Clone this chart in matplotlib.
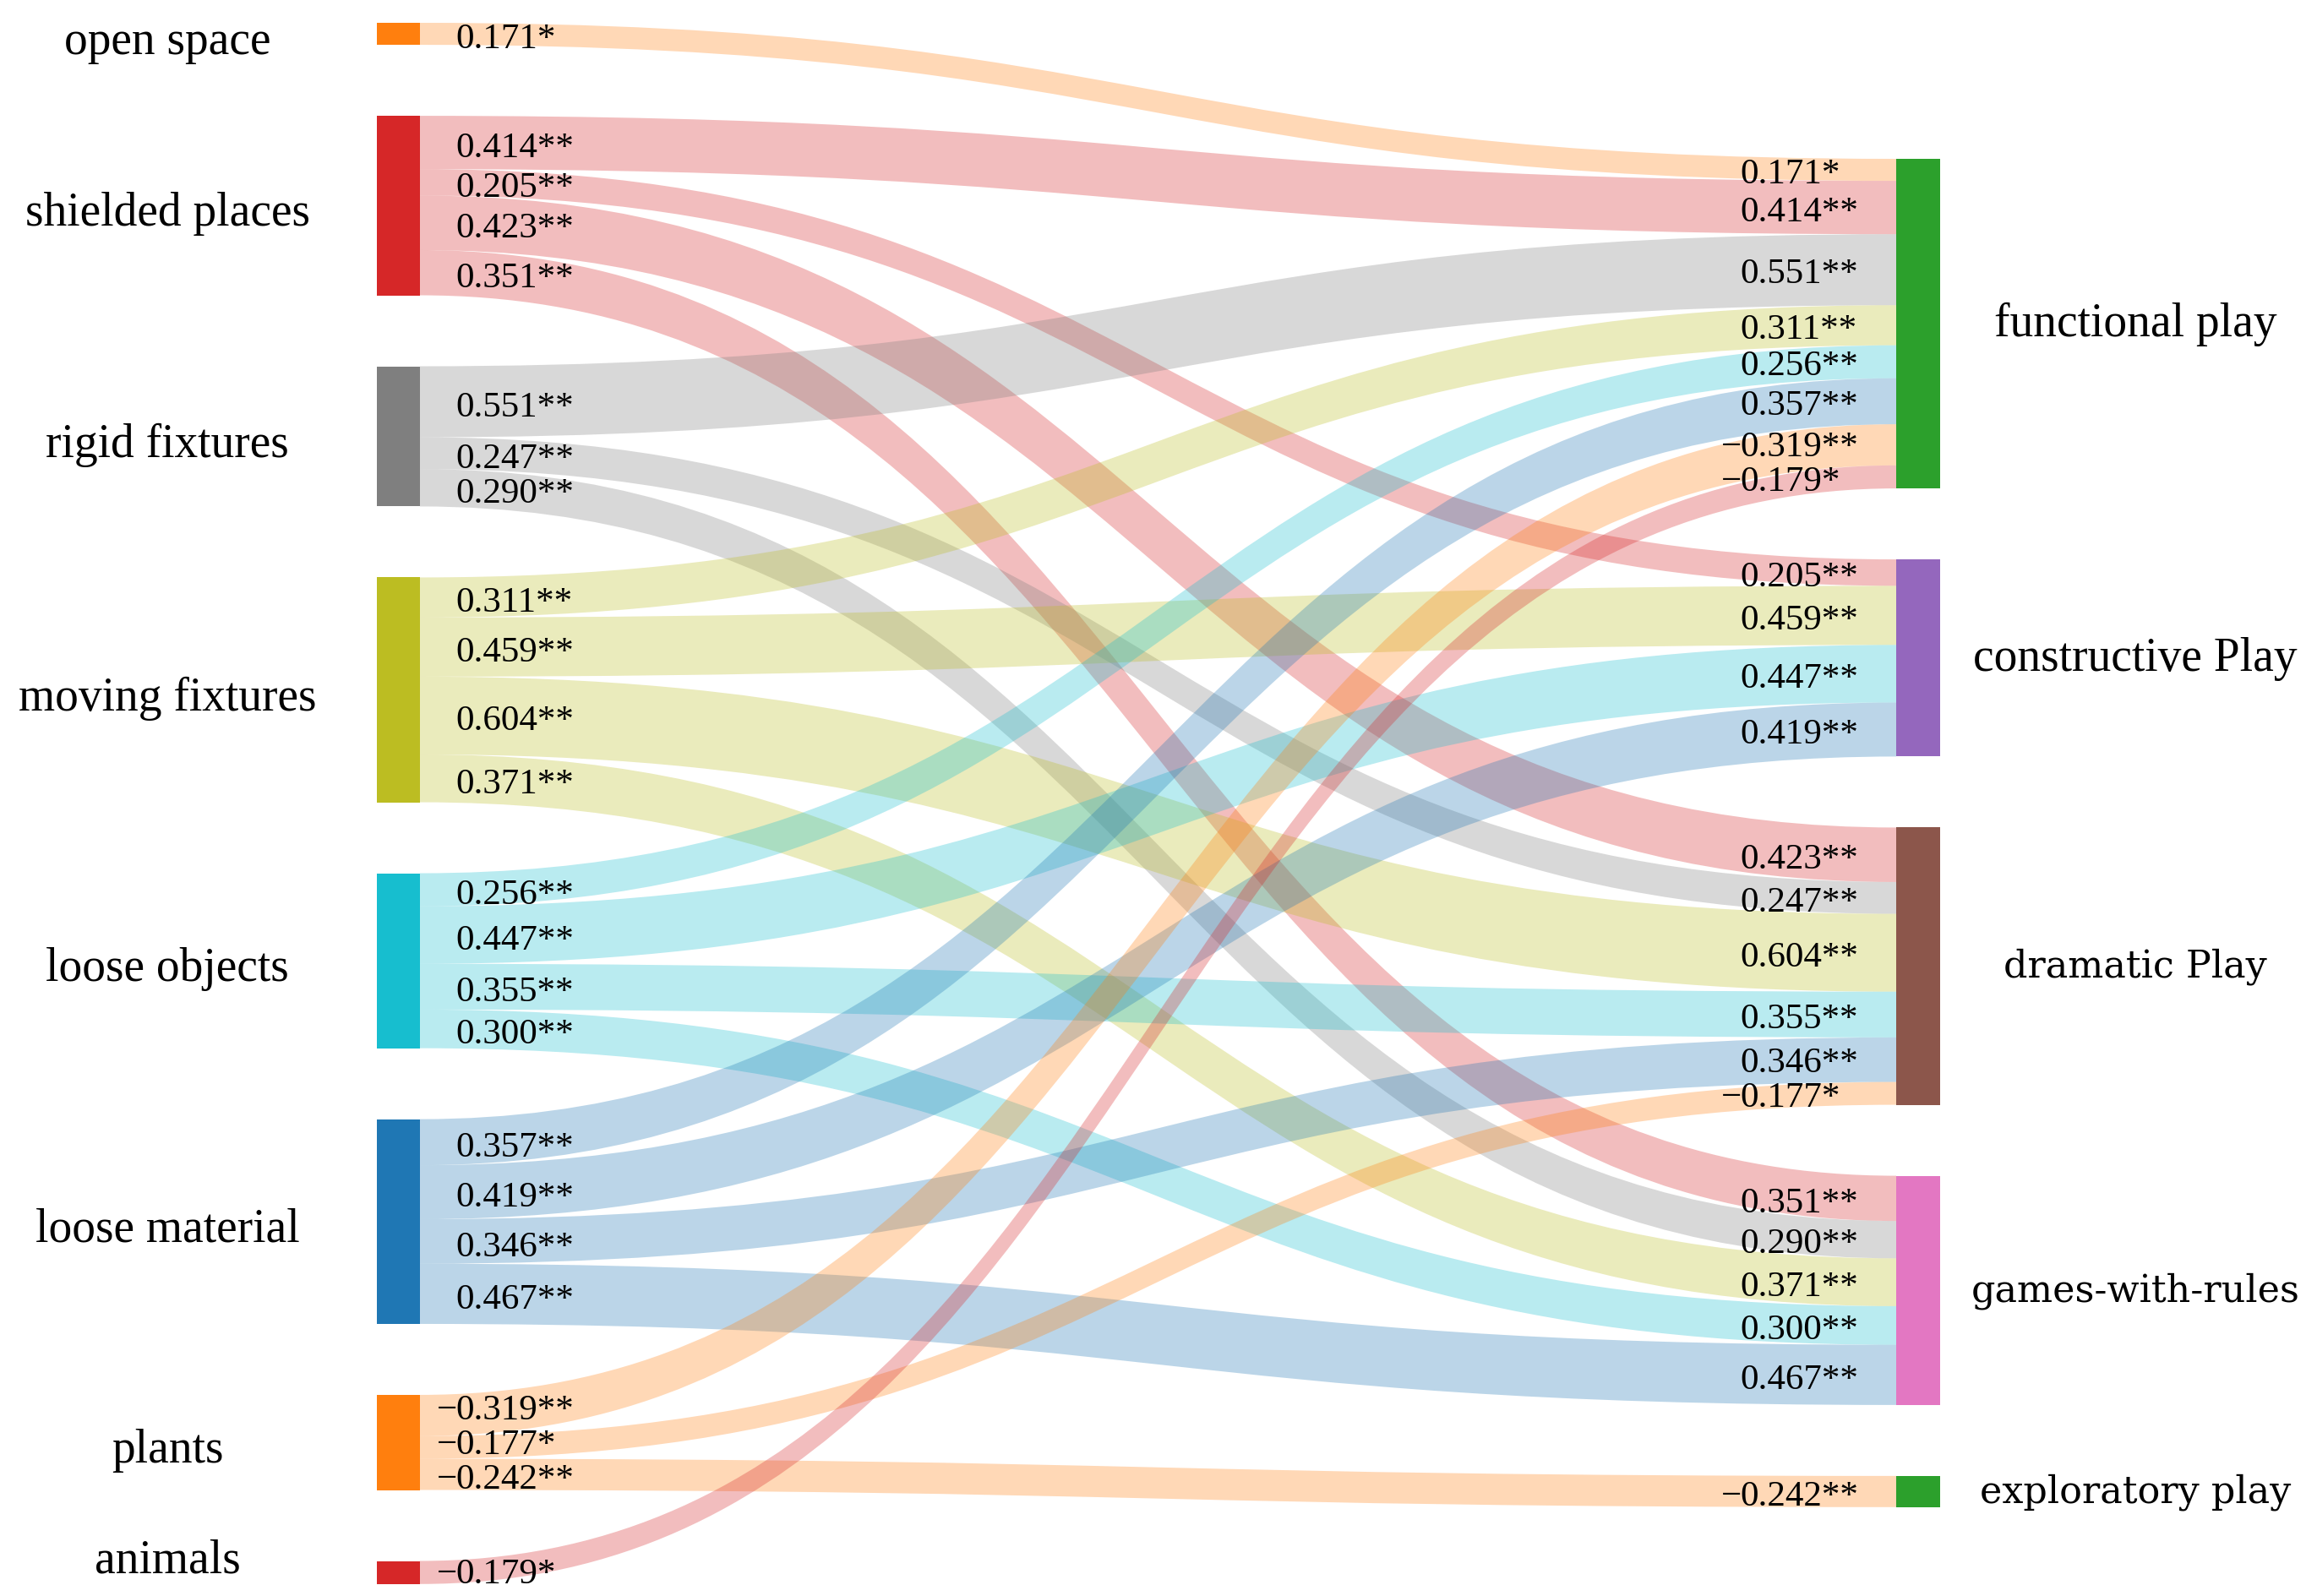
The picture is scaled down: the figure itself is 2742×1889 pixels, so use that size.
import matplotlib
matplotlib.use("Agg")
import matplotlib.pyplot as plt
from matplotlib.path import Path
from matplotlib.patches import PathPatch, Rectangle
from matplotlib.colors import to_rgba

# ---------------- data ----------------
sources = ["open space", "shielded places", "rigid fixtures", "moving fixtures",
           "loose objects", "loose material", "plants", "animals"]
targets = ["functional play", "constructive Play", "dramatic Play",
           "games-with-rules", "exploratory play"]
source_colors = ["#ff7f0e", "#d62728", "#7f7f7f", "#bcbd22",
                 "#17becf", "#1f77b4", "#ff7f0e", "#d62728"]
target_colors = ["#2ca02c", "#9467bd", "#8c564b", "#e377c2", "#2ca02c"]

link_source = [0, 1, 1, 1, 1, 2, 2, 2, 3, 3, 3, 3, 4, 4, 4, 4, 5, 5, 5, 5, 6, 6, 6, 7]
link_target = [0, 0, 1, 2, 3, 0, 2, 3, 0, 1, 2, 3, 0, 1, 2, 3, 0, 1, 2, 3, 0, 2, 4, 0]
link_value = [0.171, 0.414, 0.205, 0.423, 0.351, 0.551, 0.247, 0.290,
              0.311, 0.459, 0.604, 0.371, 0.256, 0.447, 0.355, 0.300,
              0.357, 0.419, 0.346, 0.467, -0.319, -0.177, -0.242, -0.179]
link_sig = ["*", "**", "**", "**", "**", "**", "**", "**",
            "**", "**", "**", "**", "**", "**", "**", "**",
            "**", "**", "**", "**", "**", "*", "**", "*"]

# ---------------- layout ----------------
W, H = 2742, 1890
K = 152.5          # px per unit of |r|
GAP = 84
LEFT_TOP = 28
RIGHT_TOP = 189
LX0, LX1 = 446, 497
RX0, RX1 = 2244, 2296
MINSEP = 41        # minimum vertical distance between value labels of one node

fig = plt.figure(figsize=(W / 100, H / 100), dpi=100)
ax = fig.add_axes([0, 0, 1, 1])
ax.set_xlim(0, W)
ax.set_ylim(H, 0)
ax.axis("off")

absv = [abs(v) for v in link_value]
n = len(link_value)
src_tot = [sum(a for a, s in zip(absv, link_source) if s == i) for i in range(len(sources))]
tgt_tot = [sum(a for a, t in zip(absv, link_target) if t == j) for j in range(len(targets))]

src_y = []
y = LEFT_TOP
for tot in src_tot:
    src_y.append(y)
    y += tot * K + GAP
tgt_y = []
y = RIGHT_TOP
for tot in tgt_tot:
    tgt_y.append(y)
    y += tot * K + GAP

src_cursor = list(src_y)
tgt_cursor = list(tgt_y)
order_src = sorted(range(n), key=lambda i: (link_source[i], link_target[i]))
order_tgt = sorted(range(n), key=lambda i: (link_target[i], link_source[i]))
s_top = [0] * n
t_top = [0] * n
for i in order_src:
    s_top[i] = src_cursor[link_source[i]]
    src_cursor[link_source[i]] += absv[i] * K
for i in order_tgt:
    t_top[i] = tgt_cursor[link_target[i]]
    tgt_cursor[link_target[i]] += absv[i] * K

xm = (LX1 + RX0) / 2
for i in range(n):
    h = absv[i] * K
    y0t, y1t = s_top[i], t_top[i]
    y0b, y1b = y0t + h, y1t + h
    verts = [(LX1, y0t), (xm, y0t), (xm, y1t), (RX0, y1t),
             (RX0, y1b), (xm, y1b), (xm, y0b), (LX1, y0b), (LX1, y0t)]
    codes = [Path.MOVETO, Path.CURVE4, Path.CURVE4, Path.CURVE4,
             Path.LINETO, Path.CURVE4, Path.CURVE4, Path.CURVE4, Path.CLOSEPOLY]
    col = to_rgba(source_colors[link_source[i]], 0.3)
    ax.add_patch(PathPatch(Path(verts, codes), facecolor=col, edgecolor="none", zorder=1))

for i, tot in enumerate(src_tot):
    ax.add_patch(Rectangle((LX0, src_y[i]), LX1 - LX0, tot * K,
                           facecolor=source_colors[i], edgecolor="none", zorder=3))
for j, tot in enumerate(tgt_tot):
    ax.add_patch(Rectangle((RX0, tgt_y[j]), RX1 - RX0, tot * K,
                           facecolor=target_colors[j], edgecolor="none", zorder=3))

SERIF = ["Liberation Serif", "DejaVu Serif"]
WIDE = ["DejaVu Serif"]

for i, name in enumerate(sources):
    cy = src_y[i] + src_tot[i] * K / 2 + 9
    cy = min(max(cy, 36), H - 42)
    ax.text(198, cy, name, fontsize=40, family=SERIF, ha="center", va="center", zorder=5)
target_fonts = [(SERIF, 40), (SERIF, 40), (WIDE, 32), (WIDE, 32), (WIDE, 32)]
for j, name in enumerate(targets):
    cy = tgt_y[j] + tgt_tot[j] * K / 2
    fam, fs = target_fonts[j]
    ax.text(2527, cy, name, fontsize=fs, family=fam, ha="center", va="center", zorder=5)

VX_L = 539
VX_R = 2059
FS_V = 31


def value_label(x, yv, v, sig):
    ax.text(x, yv, f"{abs(v):.3f}{sig}", fontsize=FS_V, family=SERIF,
            ha="left", va="center", zorder=6)
    if v < 0:
        ax.text(x + 2, yv, "\u2212", fontsize=FS_V, family=SERIF,
                ha="right", va="center", zorder=6)


def spread(idx_list, ys):
    # push labels upward so neighbours keep a minimum distance
    for k in range(len(idx_list) - 2, -1, -1):
        a, b = idx_list[k], idx_list[k + 1]
        if ys[b] - ys[a] < MINSEP:
            ys[a] = ys[b] - MINSEP


ly = [s_top[i] + absv[i] * K / 2 + 6 for i in range(n)]
ry = [t_top[i] + absv[i] * K / 2 + 5 for i in range(n)]
for s in range(len(sources)):
    spread([i for i in order_src if link_source[i] == s], ly)
for t in range(len(targets)):
    spread([i for i in order_tgt if link_target[i] == t], ry)
ly = [min(v, H - 26) for v in ly]

for i in range(n):
    value_label(VX_L, ly[i], link_value[i], link_sig[i])
    value_label(VX_R, ry[i], link_value[i], link_sig[i])

fig.savefig("out.png", dpi=100)
